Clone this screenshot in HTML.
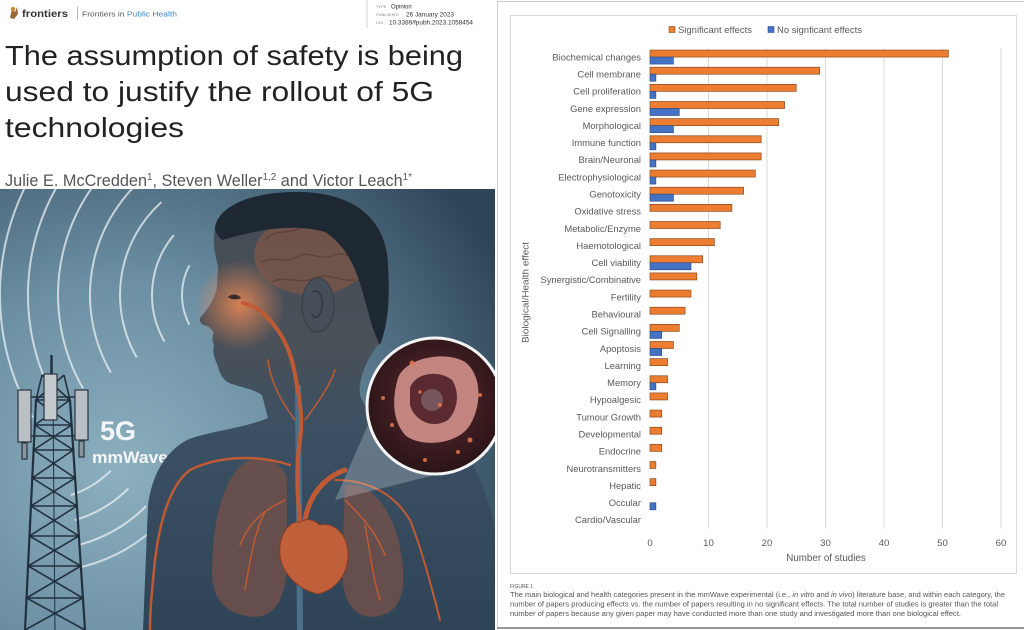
<!DOCTYPE html>
<html><head><meta charset="utf-8"><style>
html,body{margin:0;padding:0;background:#fff;}
svg{display:block;}
</style></head><body>
<svg width="1024" height="630" viewBox="0 0 1024 630" xmlns="http://www.w3.org/2000/svg" font-family="'Liberation Sans', sans-serif">
<defs>
<radialGradient id="bg" cx="120" cy="470" r="430" gradientUnits="userSpaceOnUse">
<stop offset="0" stop-color="#8db0c0"/><stop offset="0.45" stop-color="#6b8ea2"/><stop offset="1" stop-color="#2f4659"/>
</radialGradient>
<linearGradient id="body" x1="0" y1="190" x2="0" y2="630" gradientUnits="userSpaceOnUse">
<stop offset="0" stop-color="#454c55"/><stop offset="0.35" stop-color="#4a5058"/><stop offset="0.55" stop-color="#3b5063"/><stop offset="1" stop-color="#2f4456"/>
</linearGradient>
<radialGradient id="glow" cx="240" cy="305" r="45" gradientUnits="userSpaceOnUse">
<stop offset="0" stop-color="#f08a55" stop-opacity="0.85"/><stop offset="1" stop-color="#f08a55" stop-opacity="0"/>
</radialGradient>
<radialGradient id="mag" cx="435" cy="400" r="70" gradientUnits="userSpaceOnUse">
<stop offset="0" stop-color="#5e2a2e"/><stop offset="1" stop-color="#2c1519"/>
</radialGradient>
<clipPath id="ill"><rect x="0" y="189" width="495" height="441"/></clipPath>
</defs>

<!-- HEADER -->
<g>
<path d="M10,18 L12,9 L15,12 L17,7 L18,14 L14,19 Z" fill="#9a6a3a"/>
<circle cx="13" cy="9" r="2.2" fill="#d4882e"/>
<text x="22" y="17" font-size="10.5" font-weight="bold" fill="#333" textLength="46" lengthAdjust="spacingAndGlyphs">frontiers</text>
<line x1="77.5" y1="6" x2="77.5" y2="20" stroke="#bbb" stroke-width="1"/>
<text x="82" y="16.5" font-size="7.6" fill="#555" textLength="95" lengthAdjust="spacingAndGlyphs">Frontiers in <tspan fill="#3a86c0">Public Health</tspan></text>
<line x1="367" y1="0" x2="367" y2="28" stroke="#d0d0d0" stroke-width="1"/>
<text x="376" y="8" font-size="4" fill="#888">TYPE</text>
<text x="391" y="8.3" font-size="6" fill="#333">Opinion</text>
<text x="376" y="16" font-size="4" fill="#888">PUBLISHED</text>
<text x="406" y="16.3" font-size="6" fill="#333" textLength="48" lengthAdjust="spacingAndGlyphs">26 January 2023</text>
<text x="376" y="24" font-size="4" fill="#888">DOI</text>
<text x="389" y="24.3" font-size="6" fill="#333" textLength="84" lengthAdjust="spacingAndGlyphs">10.3389/fpubh.2023.1058454</text>

<text x="5" y="65" font-size="28" fill="#222" textLength="458" lengthAdjust="spacingAndGlyphs">The assumption of safety is being</text>
<text x="5" y="101" font-size="28" fill="#222" textLength="429" lengthAdjust="spacingAndGlyphs">used to justify the rollout of 5G</text>
<text x="5" y="137" font-size="28" fill="#222" textLength="179" lengthAdjust="spacingAndGlyphs">technologies</text>

<text x="5" y="186" font-size="16.5" fill="#555" textLength="407" lengthAdjust="spacingAndGlyphs">Julie E. McCredden<tspan font-size="10" dy="-6">1</tspan><tspan dy="6">, Steven Weller</tspan><tspan font-size="10" dy="-6">1,2</tspan><tspan dy="6"> and Victor Leach</tspan><tspan font-size="10" dy="-6">1*</tspan></text>
</g>

<!-- ILLUSTRATION -->
<g clip-path="url(#ill)">
<rect x="0" y="189" width="495" height="441" fill="url(#bg)"/>
<g fill="none" stroke="#e8f0f4" stroke-opacity="0.75" stroke-width="2">
<path d="M189.4,324.6 A63,63 0 0 1 189.4,265.4"/>
<path d="M164.5,341.5 A93,93 0 0 1 173.8,235.2"/>
<path d="M136.75,357.5 A125,125 0 0 1 161.4,202.1"/>
<path d="M110.8,372.5 A155,155 0 0 1 156.1,168"/>
<path d="M83.1,388.5 A187,187 0 0 1 151.5,133.1"/>
<path d="M57.1,403.5 A217,217 0 0 1 153.3,98.3"/>
<path d="M32.8,417.5 A245,245 0 0 1 161.2,64.8"/>
<path d="M110.7,470.7 A100,100 0 0 1 70.9,495.1"/>
<path d="M128.4,488.4 A125,125 0 0 1 74.5,520.2"/>
<path d="M146.1,506.1 A150,150 0 0 1 78.8,544.9"/>
<path d="M161.6,521.6 A172,172 0 0 1 81.6,566.9"/>
</g>
<g stroke="#22313f" stroke-width="1.6" fill="none">
<line x1="51.5" y1="355" x2="51.5" y2="376" stroke-width="2.5"/>
<line x1="42" y1="375" x2="36" y2="400"/><line x1="64" y1="375" x2="70" y2="400"/>
<line x1="42" y1="375" x2="70" y2="400"/><line x1="64" y1="375" x2="36" y2="400"/>
<line x1="36" y1="400" x2="25" y2="630" stroke-width="2.2"/>
<line x1="70" y1="400" x2="85" y2="630" stroke-width="2.2"/>
<line x1="53" y1="400" x2="55" y2="630" stroke-width="1"/>
<polyline points="36,400 71.6,425 33.6,450 75.1,478 30.9,506 78.9,536 28.1,566 82.9,598 25,630"/>
<polyline points="70,400 34.8,425 73.3,450 32.3,478 76.9,506 29.5,536 80.8,566 26.5,598 85,630"/>
<line x1="36" y1="400" x2="70" y2="400"/><line x1="34.8" y1="425" x2="71.6" y2="425"/>
<line x1="33.6" y1="450" x2="73.3" y2="450"/><line x1="32.3" y1="478" x2="75.1" y2="478"/>
<line x1="30.9" y1="506" x2="76.9" y2="506"/><line x1="29.5" y1="536" x2="78.9" y2="536"/>
<line x1="28.1" y1="566" x2="80.8" y2="566"/><line x1="26.5" y1="598" x2="82.9" y2="598"/>
<line x1="28" y1="397" x2="78" y2="397"/><line x1="28" y1="436" x2="78" y2="436"/>
</g>
<g stroke="#2a3540" stroke-width="1.2">
<rect x="18" y="390" width="13" height="52" fill="#b9bfc4"/>
<rect x="75" y="390" width="13" height="50" fill="#b9bfc4"/>
<rect x="44" y="374" width="13" height="46" fill="#c4c9cd"/>
<rect x="22" y="443" width="5" height="16" fill="#8a949c"/>
<rect x="79" y="441" width="5" height="16" fill="#8a949c"/>
</g>
<text x="100" y="440" font-size="27" font-weight="bold" fill="#f4f7f9">5G</text>
<text x="92" y="463" font-size="16.5" font-weight="bold" fill="#f4f7f9" textLength="76" lengthAdjust="spacingAndGlyphs">mmWave</text>

<path d="M215,228 C212,245 216,258 218,266 L217,288 C215,296 212,302 208,308 L200,318 C199,323 203,326 208,326 L214,332 C212,337 212,341 214,345 C212,352 215,360 218,366 C220,376 225,382 232,384 C245,388 255,390 262,395 L268,418 C245,428 205,432 187,440 C165,452 152,475 148,505 L143,630 L497,630 L497,540 C492,510 485,485 470,460 C450,445 420,438 400,432 C380,425 365,410 360,395 C358,380 366,360 378,345 C388,330 390,300 388,265 C385,215 350,193 300,192 C255,191 218,205 215,228 Z" fill="url(#body)"/>
<ellipse cx="240" cy="305" rx="45" ry="45" fill="url(#glow)"/>
<ellipse cx="312" cy="255" rx="58" ry="40" fill="#8a5845" opacity="0.6"/>
<g fill="none" stroke="#5a3a34" stroke-width="1.2" opacity="0.8">
<path d="M265,240 C275,228 290,235 300,228 C312,222 322,232 335,228 C348,226 355,238 362,248"/>
<path d="M262,262 C275,255 285,265 298,256 C310,250 320,262 334,255 C346,250 356,262 366,265"/>
<path d="M272,282 C285,275 300,285 315,278 C328,272 340,282 355,280"/>
</g>
<path d="M215,228 C218,205 255,191 300,192 C350,193 386,215 388,265 C390,300 388,325 380,345 C372,330 368,310 362,290 C355,265 345,245 325,232 C290,222 250,232 222,240 C218,236 215,232 215,228 Z" fill="#1d2833"/>
<ellipse cx="318" cy="305" rx="16" ry="27" fill="#464e57" stroke="#353c44" stroke-width="1"/>
<path d="M312,292 C318,288 324,296 322,308 C320,318 314,320 312,314" fill="none" stroke="#30373f" stroke-width="1.5"/>
<path d="M228,297 C232,293 238,294 241,298 C237,300 232,300 228,297 Z" fill="#3a2a28"/>
<path d="M250,460 C225,470 212,520 212,570 C212,600 225,615 255,617 C280,615 287,590 287,560 L287,480 C285,465 268,455 250,460 Z" fill="#6e504a" opacity="0.85"/>
<path d="M345,485 C375,480 400,520 403,570 C405,600 395,617 370,617 C350,615 342,595 342,570 Z" fill="#6e504a" opacity="0.85"/>
<line x1="298" y1="385" x2="300" y2="630" stroke="#4c6f8c" stroke-width="6"/>
<g fill="none" stroke="#c05a34" stroke-linecap="round">
<path d="M300,525 C298,500 295,470 300,440 C303,420 300,400 296,380 C292,355 285,335 265,315 C258,308 250,305 243,303" stroke-width="4"/>
<path d="M305,520 C310,490 330,475 345,470" stroke-width="5"/>
<path d="M290,465 C260,455 220,455 190,470 C170,485 160,520 155,560 C152,590 150,610 150,630" stroke-width="2.5"/>
<path d="M335,480 C370,480 395,495 410,520 C420,545 430,580 440,620" stroke-width="2"/>
<path d="M295,420 C280,400 270,380 268,360" stroke-width="1.5"/>
<path d="M305,420 C320,400 330,385 335,370" stroke-width="1.5"/>
<path d="M285,500 C265,510 250,520 240,545 M265,512 C255,530 250,560 245,590" stroke-width="1.5"/>
<path d="M345,500 C360,515 375,530 385,555 M365,525 C370,550 372,575 380,600" stroke-width="1.5"/>
</g>
<path d="M300,522 C290,520 278,535 280,555 C282,575 300,590 318,594 C335,590 348,575 348,555 C348,535 335,522 320,525 C312,518 305,519 300,522 Z" fill="#c0603a" stroke="#8a3d22" stroke-width="1"/>
<polygon points="368,425 455,470 335,500" fill="#e8eef2" opacity="0.25"/>
<circle cx="435" cy="406" r="68" fill="url(#mag)" stroke="#f4f4f4" stroke-width="3"/>
<path d="M398,378 C405,358 445,350 465,362 C482,375 482,405 470,425 C458,445 420,448 405,435 C392,420 392,398 398,378 Z" fill="#c2857f"/>
<path d="M410,388 C415,372 440,370 452,380 C460,392 458,410 448,420 C432,430 414,420 410,405 Z" fill="#5a2a30"/>
<circle cx="432" cy="400" r="11" fill="#8a7578" opacity="0.6"/>
<g fill="#e8784f" opacity="0.85">
<circle cx="412" cy="363" r="2.5"/><circle cx="470" cy="440" r="2.5"/><circle cx="392" cy="425" r="2"/>
<circle cx="458" cy="452" r="2"/><circle cx="383" cy="398" r="2"/><circle cx="440" cy="405" r="2"/>
<circle cx="420" cy="392" r="1.8"/><circle cx="480" cy="395" r="2"/><circle cx="425" cy="460" r="2"/>
</g>
</g>

<!-- RIGHT PANEL -->
<line x1="497" y1="1.5" x2="1024" y2="1.5" stroke="#c8c8c8" stroke-width="1"/>
<line x1="497.5" y1="1" x2="497.5" y2="628" stroke="#d0d0d0" stroke-width="1"/>
<line x1="497" y1="628" x2="1024" y2="628" stroke="#777" stroke-width="1.5"/>
<rect x="510.5" y="15.5" width="506" height="558" fill="#fff" stroke="#d9d9d9" stroke-width="1"/>

<rect x="669" y="26.5" width="6" height="6" fill="#ED7D31" stroke="#8a4a20" stroke-width="0.6"/>
<text x="678" y="33" font-size="9.5" fill="#595959" textLength="74" lengthAdjust="spacingAndGlyphs">Significant effects</text>
<rect x="768" y="26.5" width="6" height="6" fill="#4472C4" stroke="#2f4f8a" stroke-width="0.6"/>
<text x="777" y="33" font-size="9.5" fill="#595959" textLength="85" lengthAdjust="spacingAndGlyphs">No signficant effects</text>

<g stroke="#d9d9d9" stroke-width="1">
<line x1="708.5" y1="48.5" x2="708.5" y2="528.5"/>
<line x1="767" y1="48.5" x2="767" y2="528.5"/>
<line x1="825.5" y1="48.5" x2="825.5" y2="528.5"/>
<line x1="884" y1="48.5" x2="884" y2="528.5"/>
<line x1="942.5" y1="48.5" x2="942.5" y2="528.5"/>
<line x1="1001" y1="48.5" x2="1001" y2="528.5"/>
</g>

<g fill="#ED7D31" stroke="#8a4a20" stroke-width="0.7">
<rect x="650" y="50.07" width="298.35" height="7"/>
<rect x="650" y="67.21" width="169.65" height="7"/>
<rect x="650" y="84.36" width="146.25" height="7"/>
<rect x="650" y="101.5" width="134.55" height="7"/>
<rect x="650" y="118.64" width="128.7" height="7"/>
<rect x="650" y="135.78" width="111.15" height="7"/>
<rect x="650" y="152.93" width="111.15" height="7"/>
<rect x="650" y="170.07" width="105.3" height="7"/>
<rect x="650" y="187.21" width="93.6" height="7"/>
<rect x="650" y="204.36" width="81.9" height="7"/>
<rect x="650" y="221.5" width="70.2" height="7"/>
<rect x="650" y="238.64" width="64.35" height="7"/>
<rect x="650" y="255.78" width="52.65" height="7"/>
<rect x="650" y="272.93" width="46.8" height="7"/>
<rect x="650" y="290.07" width="40.95" height="7"/>
<rect x="650" y="307.21" width="35.1" height="7"/>
<rect x="650" y="324.36" width="29.25" height="7"/>
<rect x="650" y="341.5" width="23.4" height="7"/>
<rect x="650" y="358.64" width="17.55" height="7"/>
<rect x="650" y="375.78" width="17.55" height="7"/>
<rect x="650" y="392.93" width="17.55" height="7"/>
<rect x="650" y="410.07" width="11.7" height="7"/>
<rect x="650" y="427.21" width="11.7" height="7"/>
<rect x="650" y="444.36" width="11.7" height="7"/>
<rect x="650" y="461.5" width="5.85" height="7"/>
<rect x="650" y="478.64" width="5.85" height="7"/>
</g>
<g fill="#4472C4" stroke="#2f4f8a" stroke-width="0.7">
<rect x="650" y="57.07" width="23.4" height="7"/>
<rect x="650" y="74.21" width="5.85" height="7"/>
<rect x="650" y="91.36" width="5.85" height="7"/>
<rect x="650" y="108.5" width="29.25" height="7"/>
<rect x="650" y="125.64" width="23.4" height="7"/>
<rect x="650" y="142.78" width="5.85" height="7"/>
<rect x="650" y="159.93" width="5.85" height="7"/>
<rect x="650" y="177.07" width="5.85" height="7"/>
<rect x="650" y="194.21" width="23.4" height="7"/>
<rect x="650" y="262.78" width="40.95" height="7"/>
<rect x="650" y="331.36" width="11.7" height="7"/>
<rect x="650" y="348.5" width="11.7" height="7"/>
<rect x="650" y="382.78" width="5.85" height="7"/>
<rect x="650" y="502.78" width="5.85" height="7"/>
</g>

<g font-size="9.4" fill="#595959" text-anchor="end">
<text x="641" y="60.4">Biochemical changes</text>
<text x="641" y="77.5">Cell membrane</text>
<text x="641" y="94.7">Cell proliferation</text>
<text x="641" y="111.8">Gene expression</text>
<text x="641" y="128.9">Morphological</text>
<text x="641" y="146.1">Immune function</text>
<text x="641" y="163.2">Brain/Neuronal</text>
<text x="641" y="180.4">Electrophysiological</text>
<text x="641" y="197.5">Genotoxicity</text>
<text x="641" y="214.7">Oxidative stress</text>
<text x="641" y="231.8">Metabolic/Enzyme</text>
<text x="641" y="248.9">Haemotological</text>
<text x="641" y="266.1">Cell viability</text>
<text x="641" y="283.2">Synergistic/Combinative</text>
<text x="641" y="300.4">Fertility</text>
<text x="641" y="317.5">Behavioural</text>
<text x="641" y="334.7">Cell Signalling</text>
<text x="641" y="351.8">Apoptosis</text>
<text x="641" y="368.9">Learning</text>
<text x="641" y="386.1">Memory</text>
<text x="641" y="403.2">Hypoalgesic</text>
<text x="641" y="420.4">Tumour Growth</text>
<text x="641" y="437.5">Developmental</text>
<text x="641" y="454.7">Endocrine</text>
<text x="641" y="471.8">Neurotransmitters</text>
<text x="641" y="488.9">Hepatic</text>
<text x="641" y="506.1">Occular</text>
<text x="641" y="523.2">Cardio/Vascular</text>
</g>

<g font-size="9.6" fill="#595959" text-anchor="middle">
<text x="650" y="546">0</text>
<text x="708.5" y="546">10</text>
<text x="767" y="546">20</text>
<text x="825.5" y="546">30</text>
<text x="884" y="546">40</text>
<text x="942.5" y="546">50</text>
<text x="1001" y="546">60</text>
</g>
<text x="826" y="561" font-size="9.8" fill="#595959" text-anchor="middle">Number of studies</text>
<text transform="translate(528.5,292.5) rotate(-90)" font-size="9.4" fill="#595959" text-anchor="middle" textLength="101" lengthAdjust="spacingAndGlyphs">Biological/Health  effect</text>

<text x="510" y="588" font-size="5" fill="#555">FIGURE 1</text>
<g font-size="6.9" fill="#555">
<text x="510" y="596.8" textLength="495" lengthAdjust="spacingAndGlyphs">The main biological and health categories present in the mmWave experimental (i.e., <tspan font-style="italic">in vitro</tspan> and <tspan font-style="italic">in vivo</tspan>) literature base, and within each category, the</text>
<text x="510" y="606.5" textLength="488" lengthAdjust="spacingAndGlyphs">number of papers producing effects vs. the number of papers resulting in no significant effects. The total number of studies is greater than the total</text>
<text x="510" y="616.2" textLength="451" lengthAdjust="spacingAndGlyphs">number of papers because any given paper may have conducted more than one study and investigated more than one biological effect.</text>
</g>
</svg>
</body></html>
